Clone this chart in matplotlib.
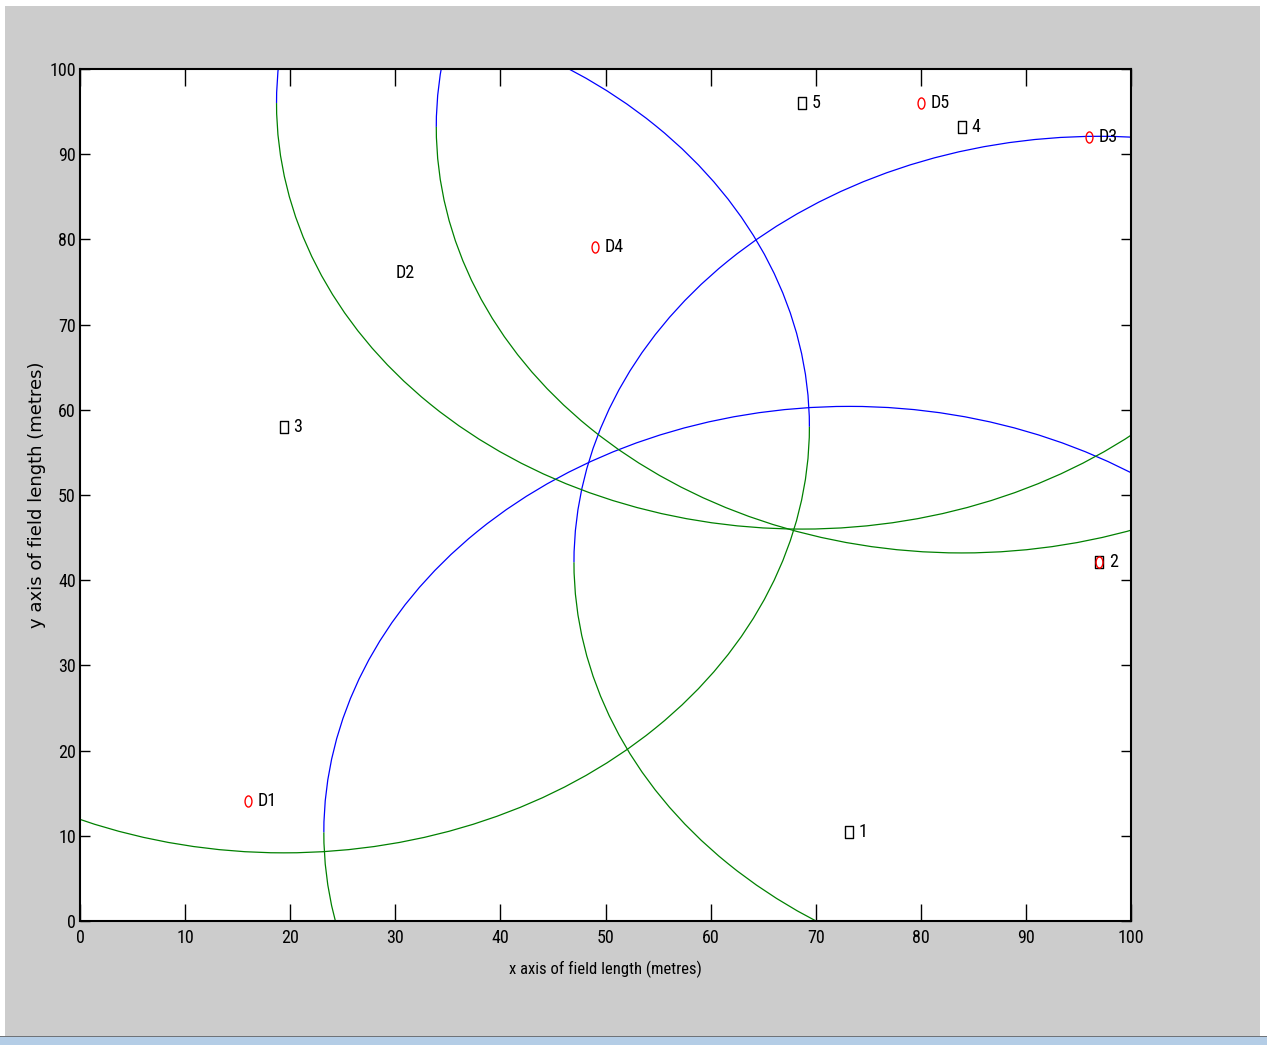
import matplotlib
matplotlib.use("Agg")
import matplotlib.pyplot as plt
from matplotlib.patches import Arc, Rectangle
from matplotlib.path import Path
from matplotlib.transforms import Affine2D
from matplotlib import font_manager

# ---------------- data ----------------
node_labels = ['1', '2', '3', '4', '5']
node_x = [73.2, 97.0, 19.4, 83.9, 68.7]
node_y = [10.4, 42.1, 58.0, 93.2, 96.0]
node_radius = [50.0, 50.0, 50.0, 50.0, 50.0]

dev_labels = ['D1', 'D2', 'D3', 'D4', 'D5']
dev_x = [16.0, 97.0, 96.0, 49.0, 80.0]
dev_y = [14.1, 42.1, 92.0, 79.1, 96.0]
dev_label_x = [16.9, 30.0, 96.9, 49.9, 80.9]
dev_label_y = [14.1, 76.1, 92.0, 79.1, 96.0]

x_ticks = [0, 10, 20, 30, 40, 50, 60, 70, 80, 90, 100]
y_ticks = [0, 10, 20, 30, 40, 50, 60, 70, 80, 90, 100]

# ---------------- fonts ----------------
avail = {f.name for f in font_manager.fontManager.ttflist}
narrow = 'DejaVu Sans'
for cand in ['Liberation Sans Narrow', 'Roboto Condensed', 'Open Sans Condensed', 'DejaVu Sans Condensed', 'Liberation Sans']:
    if cand in avail:
        narrow = cand
        break
regular = 'DejaVu Sans'

BLUE = (0, 0, 1)
GREEN = (0, 0.5, 0)
GRAY = '#cccccc'

W, H = 1267, 1045
fig = plt.figure(figsize=(W / 100, H / 100), dpi=100, facecolor='white')
# window-like gray background and taskbar strip
fig.patches.append(Rectangle((5 / W, 1 - 1036 / H), 1255 / W, 1030 / H,
                             transform=fig.transFigure, facecolor=GRAY,
                             edgecolor='none', zorder=-10))
fig.patches.append(Rectangle((0, 0), 1, 8 / H, transform=fig.transFigure,
                             facecolor='#b4cde6', edgecolor='none', zorder=-10))
fig.patches.append(Rectangle((0, 8 / H), 1, 1.5 / H, transform=fig.transFigure,
                             facecolor='#6f7378', edgecolor='none', zorder=-9))

ax = fig.add_axes([80 / W, 1 - 921 / H, 1051 / W, 852 / H])
ax.set_facecolor('white')
ax.set_xlim(0, 100)
ax.set_ylim(0, 100)

# range circles around anchor nodes: upper half blue, lower half green
for cx, cy, r in zip(node_x, node_y, node_radius):
    ax.add_patch(Arc((cx, cy), 2 * r, 2 * r, theta1=0, theta2=180,
                     color=BLUE, lw=0.9, zorder=2))
    ax.add_patch(Arc((cx, cy), 2 * r, 2 * r, theta1=180, theta2=360,
                     color=GREEN, lw=0.9, zorder=2))

# squished markers (the screenshot is horizontally compressed)
ell = Path.unit_circle().transformed(Affine2D().scale(0.62, 1.0))
sq = Path.unit_rectangle().transformed(Affine2D().translate(-0.5, -0.5).scale(0.7, 1.0))

ax.plot(node_x, node_y, linestyle='none', marker=sq, markersize=8,
        markerfacecolor='none', markeredgecolor='black', markeredgewidth=1.0, zorder=3)
ax.plot(dev_x, dev_y, linestyle='none', marker=ell, markersize=8,
        markerfacecolor='none', markeredgecolor='red', markeredgewidth=1.0, zorder=4)

for lab, x, y in zip(node_labels, node_x, node_y):
    ax.text(x + 0.9, y, lab, fontsize=13, family=narrow, va='center', ha='left', zorder=5)
for lab, x, y in zip(dev_labels, dev_label_x, dev_label_y):
    ax.text(x, y, lab, fontsize=13, family=narrow, va='center', ha='left', zorder=5)

ax.set_xticks(x_ticks)
ax.set_yticks(y_ticks)
ax.set_xticklabels([str(t) for t in x_ticks], family=narrow, fontsize=13)
ax.set_yticklabels([str(t) for t in y_ticks], family=narrow, fontsize=13)
ax.tick_params(axis='x', direction='in', length=12, width=1.0, top=True, bottom=True, pad=6)
ax.tick_params(axis='y', direction='in', length=7, width=1.0, left=True, right=True, pad=3)
for s in ax.spines.values():
    s.set_linewidth(1.5)
    s.set_color('black')

ax.set_xlabel('x axis of field length (metres)', family=narrow, fontsize=12, labelpad=10)
ax.set_ylabel('y axis of field length (metres)', family=regular, fontsize=13, labelpad=2)

fig.savefig('out.png', dpi=100, facecolor=fig.get_facecolor())
